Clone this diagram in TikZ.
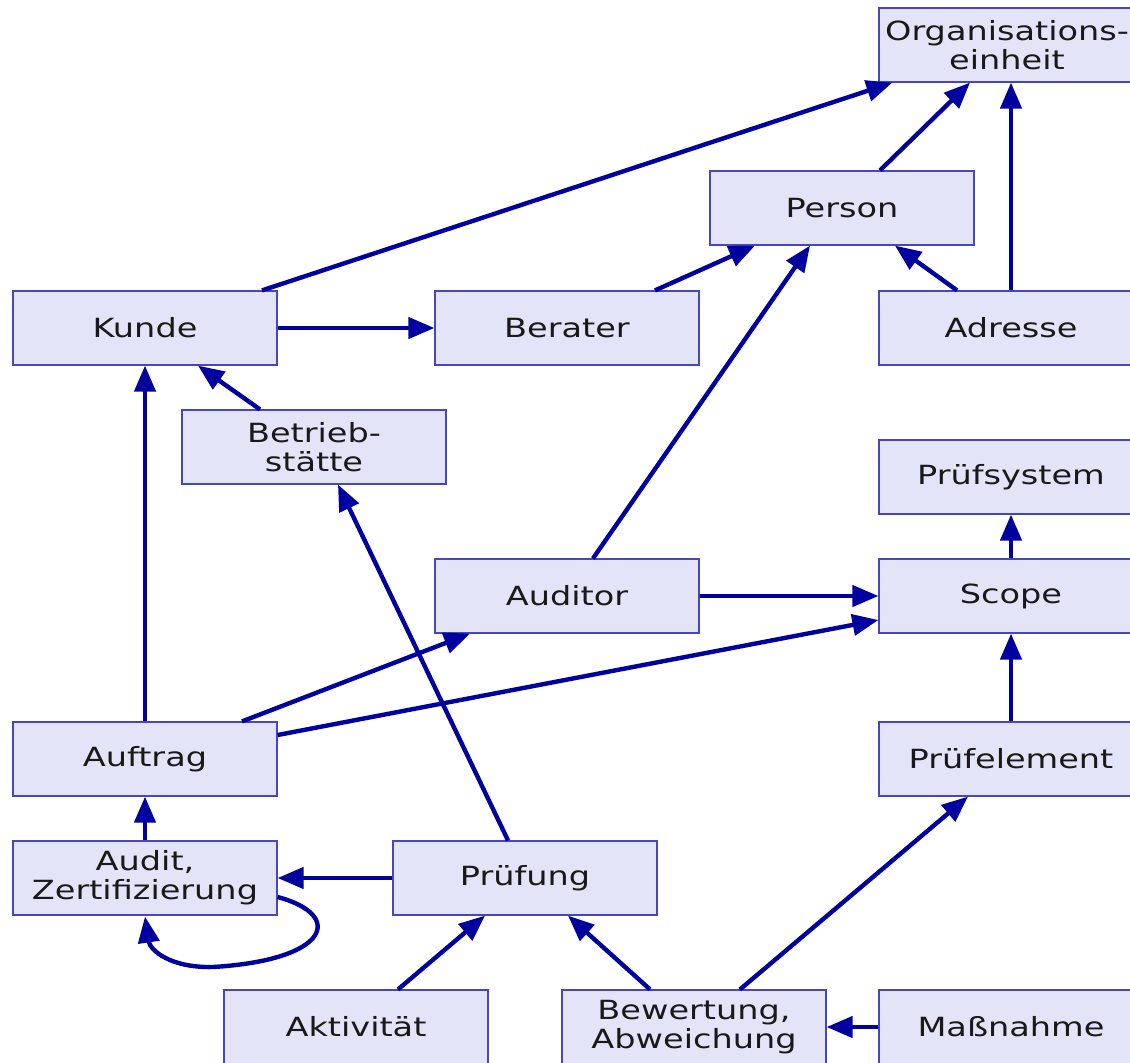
\documentclass[tikz,border=0pt]{standalone}
\usepackage{fontspec}
\setmainfont{DejaVu Sans}[FakeStretch=1.27]
\usepackage{tikz}
\usetikzlibrary{arrows.meta,calc}
\definecolor{boxfill}{RGB}{228,228,248}
\definecolor{boxline}{RGB}{70,70,190}
\definecolor{linkblue}{RGB}{0,0,160}
\tikzset{entity/.style={draw=boxline,fill=boxfill,line width=0.6pt,minimum width=132pt,minimum height=37pt,inner sep=0pt,align=center,text=black!90,font=\fontsize{13.2pt}{14.5pt}\selectfont}}
\tikzset{link/.style={draw=linkblue,line width=2.2pt,-{Triangle[length=13pt,width=10.5pt]}}}

\begin{document}
\begin{tikzpicture}[x=0.5pt,y=-0.5pt]
	\useasboundingbox (0,0) rectangle (1130,1062);
	\clip (0,0) rectangle (1130,1062);
	% entities
	\node[entity,minimum width=128pt] (org) at (1007,45) {Organisations-\\einheit};
	\node[entity] (person) at (842,208) {Person};
	\node[entity] (kunde) at (145,328) {Kunde};
	\node[entity] (berater) at (567,328) {Berater};
	\node[entity] (adresse) at (1011,328) {Adresse};
	\node[entity] (betrieb) at (314,447) {Betrieb-\\stätte};
	\node[entity] (pruefsys) at (1011,477) {Prüfsystem};
	\node[entity] (auditor) at (567,596) {Auditor};
	\node[entity] (scope) at (1011,596) {Scope};
	\node[entity] (auftrag) at (145,759) {Auftrag};
	\node[entity] (pruefel) at (1011,759) {Prüfelement};
	\node[entity] (audit) at (145,878) {Audit,\\Zertifizierung};
	\node[entity] (pruefung) at (525,878) {Prüfung};
	\node[entity] (aktiv) at (356,1027) {Aktivität};
	\node[entity] (bewert) at (694,1027) {Bewertung,\\Abweichung};
	\node[entity] (massn) at (1011,1027) {Maßnahme};

	% straight links
	\foreach \a/\b in {kunde.east/berater.west,auftrag.north/kunde.south,
		auditor.east/scope.west,scope.north/pruefsys.south,pruefel.north/scope.south,
		audit.north/auftrag.south,pruefung.west/audit.east,massn.west/bewert.east}{
		\draw[link] (\a) -- (\b);
	}
	% slanted links
	\draw[link] (adresse.north) -- ($(org.south)+(4,0)$);
	\draw[link] ($(kunde.north)+(117,0)$) -- ($(org.south west)+(14,0)$);
	\draw[link] ($(person.north)+(38,0)$) -- ($(org.south)+(-37,0)$);
	\draw[link] ($(berater.north)+(88,0)$) -- ($(person.south)+(-87,0)$);
	\draw[link] ($(adresse.north)+(-54,0)$) -- ($(person.south)+(53,0)$);
	\draw[link] ($(auditor.north)+(26,0)$) -- ($(person.south)+(-32,0)$);
	\draw[link] ($(betrieb.north)+(-54,0)$) -- ($(kunde.south)+(53,0)$);
	\draw[link] ($(pruefung.north)+(-17,0)$) -- ($(betrieb.south)+(24,0)$);
	\draw[link] ($(auftrag.north)+(97,0)$) -- ($(auditor.south)+(-97,0)$);
	\draw[link] ($(auftrag.east)+(0,-24)$) -- ($(scope.west)+(0,24)$);
	\draw[link] ($(aktiv.north)+(42,0)$) -- ($(pruefung.south)+(-40,0)$);
	\draw[link] ($(bewert.north)+(-44,0)$) -- ($(pruefung.south)+(43,0)$);
	\draw[link] ($(bewert.north)+(46,0)$) -- ($(pruefel.south)+(-43,0)$);
	% self loop
	\draw[link] ($(audit.east)+(0,19)$) .. controls (345,915) and (330,960) .. (213,967)
		.. controls (170,968) and (150,950) .. ($(audit.south)+(0,1)$);
\end{tikzpicture}
\end{document}
